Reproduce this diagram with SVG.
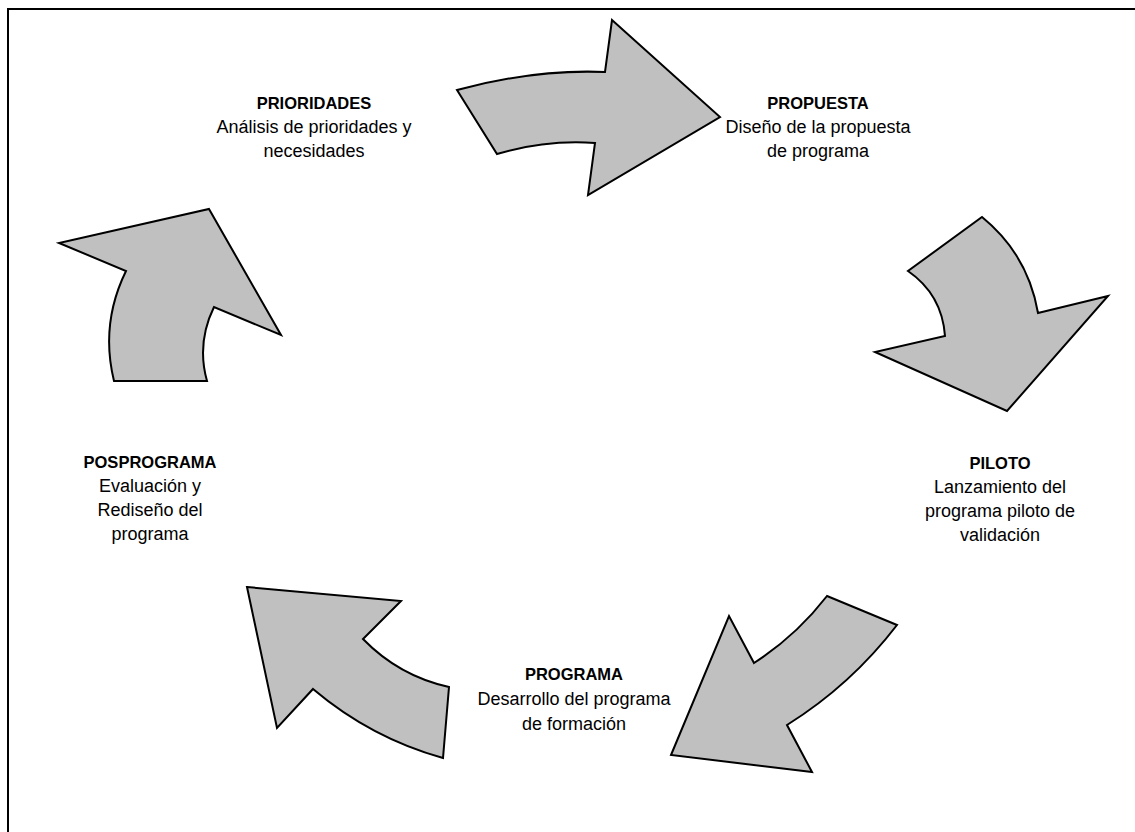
<svg xmlns="http://www.w3.org/2000/svg" width="1135" height="832" viewBox="0 0 1135 832">
<style>
.arr{fill:#c0c0c0;stroke:#000;stroke-width:2;stroke-linejoin:miter}
text{font-family:"Liberation Sans",Arial,sans-serif;font-size:18px;fill:#000;text-anchor:middle}
.t{font-weight:bold;font-size:16.5px}
</style>
<rect x="0" y="0" width="1135" height="832" fill="#fff"/>
<path d="M8 840 V9 H1145" fill="none" stroke="#000" stroke-width="2"/>
<g id="connectors">
<path id="arrow-top" class="arr" d="M457 90 L497 154 Q546 139.5 595 143 L588 195 L720 117 L612 20 L605 72 Q535 69 457 90 Z"/>
<path id="arrow-right" class="arr" d="M982 217 Q1028 254.5 1038 313 L1108 296 L1007 411 L875 352 L945 336 Q942 294.5 908 271 Z"/>
<path id="arrow-bottom-right" class="arr" d="M827 596 L897 625 Q851 685 787 725 L812 772 L671 755 L729 616 L754 663 Q796 636 827 596 Z"/>
<path id="arrow-bottom-left" class="arr" d="M247 587 L401 601 L363 639 Q399 676 449 687 L443 758 Q371 738 313 689 L277 728 Z"/>
<path id="arrow-left" class="arr" d="M209 209 L281 335 L214 307 Q196.4 343 207 381 L114 381 Q100 324 126 271 L59 243 Z"/>
</g>
<g id="node-prioridades">
<text class="t" x="314" y="109">PRIORIDADES</text>
<text x="314" y="133">Análisis de prioridades y</text>
<text x="314" y="157">necesidades</text>
</g>
<g id="node-propuesta">
<text class="t" x="818" y="109">PROPUESTA</text>
<text x="818" y="133">Diseño de la propuesta</text>
<text x="818" y="157">de programa</text>
</g>
<g id="node-piloto">
<text class="t" x="1000" y="469">PILOTO</text>
<text x="1000" y="493">Lanzamiento del</text>
<text x="1000" y="517">programa piloto de</text>
<text x="1000" y="541">validación</text>
</g>
<g id="node-programa">
<text class="t" x="574" y="680">PROGRAMA</text>
<text x="574" y="705">Desarrollo del programa</text>
<text x="574" y="730">de formación</text>
</g>
<g id="node-posprograma">
<text class="t" x="150" y="468">POSPROGRAMA</text>
<text x="150" y="492">Evaluación y</text>
<text x="150" y="516">Rediseño del</text>
<text x="150" y="540">programa</text>
</g>
</svg>
